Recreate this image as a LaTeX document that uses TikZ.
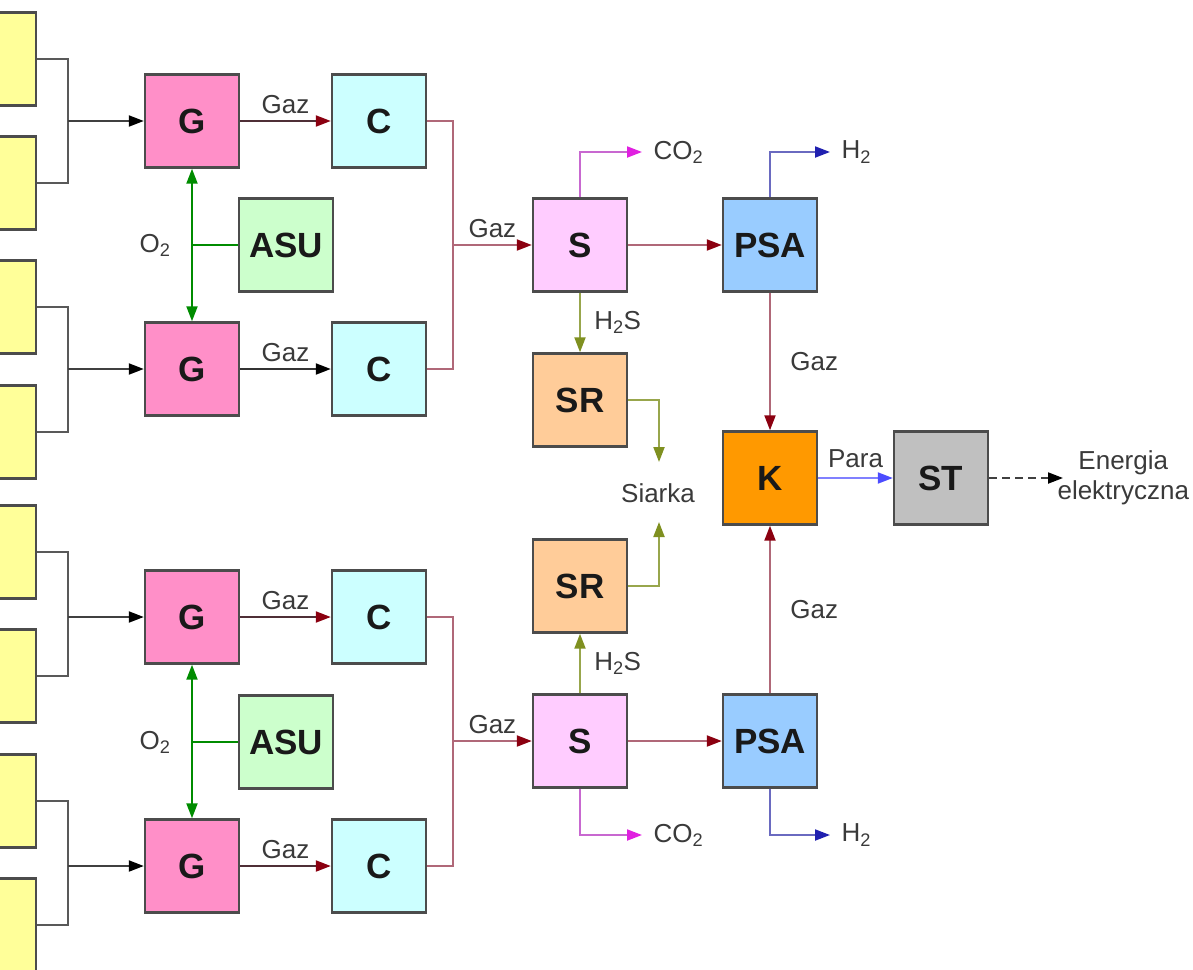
\documentclass[tikz,border=0pt]{standalone}
\usepackage{fontspec}
\setmainfont{Liberation Sans}
\usetikzlibrary{arrows.meta,positioning,calc}
\definecolor{feedfill}{HTML}{FFFF99}
\definecolor{gasfill}{HTML}{FF8FC8}
\definecolor{coolfill}{HTML}{CCFFFF}
\definecolor{asufill}{HTML}{CCFFCC}
\definecolor{sepfill}{HTML}{FFCCFF}
\definecolor{srfill}{HTML}{FFCC99}
\definecolor{psafill}{HTML}{99CCFF}
\definecolor{kfill}{HTML}{FF9900}
\definecolor{stfill}{HTML}{C0C0C0}
\definecolor{darkred}{HTML}{8B0010}
\definecolor{gasline}{HTML}{B06878}
\definecolor{olive}{HTML}{7F9020}
\definecolor{coline}{HTML}{C868D0}
\definecolor{cotip}{HTML}{E020E0}
\definecolor{hline}{HTML}{6A6AC0}
\definecolor{htip}{HTML}{2020B0}
\definecolor{labelgray}{HTML}{3A3A3A}

\tikzset{
  unit/.style={draw=black!70,line width=2.4pt,minimum width=94pt,minimum height=93pt,
    inner sep=0pt,font=\fontsize{35}{40}\selectfont\bfseries,text=black!90},
  lbl/.style={text=labelgray,font=\fontsize{26}{30}\selectfont},
  tip/.style={-{Triangle[length=15pt,width=11pt,color=#1]}},
  conn/.style={line width=2pt}
}

\begin{document}
\begin{tikzpicture}[x=1pt,y=-1pt]
  \useasboundingbox (0,0) rectangle (1193,969);
  \clip (0,0) rectangle (1193,969);
  % coal feed
  \foreach \n/\y in {1/59,2/183,3/307,4/432,5/552,6/676,7/801,8/925}
    \node[unit,fill=feedfill] (y\n) at (-11,\y) {};
  % gasifiers
  \node[unit,fill=gasfill] (G1) at (192,121) {G};
  \node[unit,fill=gasfill] (G2) at (192,369) {G};
  \node[unit,fill=gasfill] (G3) at (192,617) {G};
  \node[unit,fill=gasfill] (G4) at (192,866) {G};
  \node[unit,fill=asufill] (ASU1) at (286,245) {ASU};
  \node[unit,fill=asufill] (ASU2) at (286,742) {ASU};
  \node[unit,fill=coolfill] (C1) at (379,121) {C};
  \node[unit,fill=coolfill] (C2) at (379,369) {C};
  \node[unit,fill=coolfill] (C3) at (379,617) {C};
  \node[unit,fill=coolfill] (C4) at (379,866) {C};
  % cleaning
  \node[unit,fill=sepfill] (S1) at (580,245) {S};
  \node[unit,fill=sepfill] (S2) at (580,741) {S};
  \node[unit,fill=srfill] (SR1) at (580,400) {SR};
  \node[unit,fill=srfill] (SR2) at (580,586) {SR};
  \node[unit,fill=psafill] (PSA1) at (770,245) {PSA};
  \node[unit,fill=psafill] (PSA2) at (770,741) {PSA};
  \node[unit,fill=kfill] (K) at (770,478) {K};
  \node[unit,fill=stfill] (ST) at (941,478) {ST};

  \coordinate (j1) at (68,121);
  \coordinate (j2) at (68,369);
  \coordinate (j3) at (68,617);
  \coordinate (j4) at (68,866);
  \coordinate (jc1) at (453,245);
  \coordinate (jc2) at (453,741);
  \coordinate (o1) at (192,245);
  \coordinate (o2) at (192,742);
  \coordinate (co1) at (642,152);
  \coordinate (co2) at (642,835);
  \coordinate (h1) at (830,152);
  \coordinate (h2) at (830,835);
  \coordinate (s1) at (659,462);
  \coordinate (s2) at (659,522);
  \coordinate (e1) at (1063,478);

  % feed lines
  \foreach \a/\b/\j/\g in {y1/y2/j1/G1,y3/y4/j2/G2,y5/y6/j3/G3,y7/y8/j4/G4} {
    \draw[conn,black!65] (\a.east) -| (\j) |- (\b.east);
    \draw[conn,black!75,tip=black] (\j) -- (\g.west);
  }
  % oxygen
  \foreach \a/\b/\o/\u in {G1/G2/o1/ASU1,G3/G4/o2/ASU2} {
    \draw[conn,green!55!black,{Triangle[length=15pt,width=11pt]}-{Triangle[length=15pt,width=11pt]}] (\a.south) -- (\b.north);
    \draw[conn,green!55!black] (\u.west) -- (\o);
  }
  \node[lbl] (O2a) at (155,245) {O\textsubscript{2}};
  \node[lbl] (O2b) at (155,742) {O\textsubscript{2}};
  % gas to coolers
  \draw[conn,black!55!gasline,tip=darkred] (G1.east) -- (C1.west) node[lbl,midway,above=3pt] {Gaz};
  \draw[conn,black!80,tip=black] (G2.east) -- (C2.west) node[lbl,midway,above=3pt] {Gaz};
  \draw[conn,black!55!gasline,tip=darkred] (G3.east) -- (C3.west) node[lbl,midway,above=3pt] {Gaz};
  \draw[conn,black!55!gasline,tip=darkred] (G4.east) -- (C4.west) node[lbl,midway,above=3pt] {Gaz};
  % coolers to separators
  \draw[conn,gasline] (C1.east) -| (jc1) |- (C2.east);
  \draw[conn,gasline] (C3.east) -| (jc2) |- (C4.east);
  \draw[conn,gasline,tip=darkred] (jc1) -- (S1.west) node[lbl,midway,above=3pt] {Gaz};
  \draw[conn,gasline,tip=darkred] (jc2) -- (S2.west) node[lbl,midway,above=3pt] {Gaz};
  \draw[conn,gasline,tip=darkred] (S1.east) -- (PSA1.west);
  \draw[conn,gasline,tip=darkred] (S2.east) -- (PSA2.west);
  % CO2 and H2
  \draw[conn,coline,tip=cotip] (S1.north) |- (co1);
  \draw[conn,coline,tip=cotip] (S2.south) |- (co2);
  \node[lbl,right=8pt of co1] (CO2a) {CO\textsubscript{2}};
  \node[lbl,right=8pt of co2] (CO2b) {CO\textsubscript{2}};
  \draw[conn,hline,tip=htip] (PSA1.north) |- (h1);
  \draw[conn,hline,tip=htip] (PSA2.south) |- (h2);
  \node[lbl,right=8pt of h1] (H2a) {H\textsubscript{2}};
  \node[lbl,right=8pt of h2] (H2b) {H\textsubscript{2}};
  % sulphur
  \draw[conn,olive!80,tip=olive] (S1.south) -- (SR1.north) node[lbl,midway,right=10pt] {H\textsubscript{2}S};
  \draw[conn,olive!80,tip=olive] (S2.north) -- (SR2.south) node[lbl,midway,right=10pt] {H\textsubscript{2}S};
  \draw[conn,olive!80,tip=olive] (SR1.east) -| (s1);
  \draw[conn,olive!80,tip=olive] (SR2.east) -| (s2);
  \node[lbl] (siarka) at (658,493) {Siarka};
  % boiler and turbine
  \draw[conn,gasline,tip=darkred] (PSA1.south) -- (K.north) node[lbl,midway,right=16pt] {Gaz};
  \draw[conn,gasline,tip=darkred] (PSA2.north) -- (K.south) node[lbl,midway,right=16pt] {Gaz};
  \draw[conn,blue!50!white,tip=blue!70] (K.east) -- (ST.west) node[lbl,midway,above=6pt] {Para};
  \draw[conn,black!75,dashed,dash pattern=on 8pt off 5pt,tip=black] (ST.east) -- (e1);
  \node[lbl,right=-9pt of e1,align=center] (energia) {Energia\\elektryczna};
\end{tikzpicture}
\end{document}
